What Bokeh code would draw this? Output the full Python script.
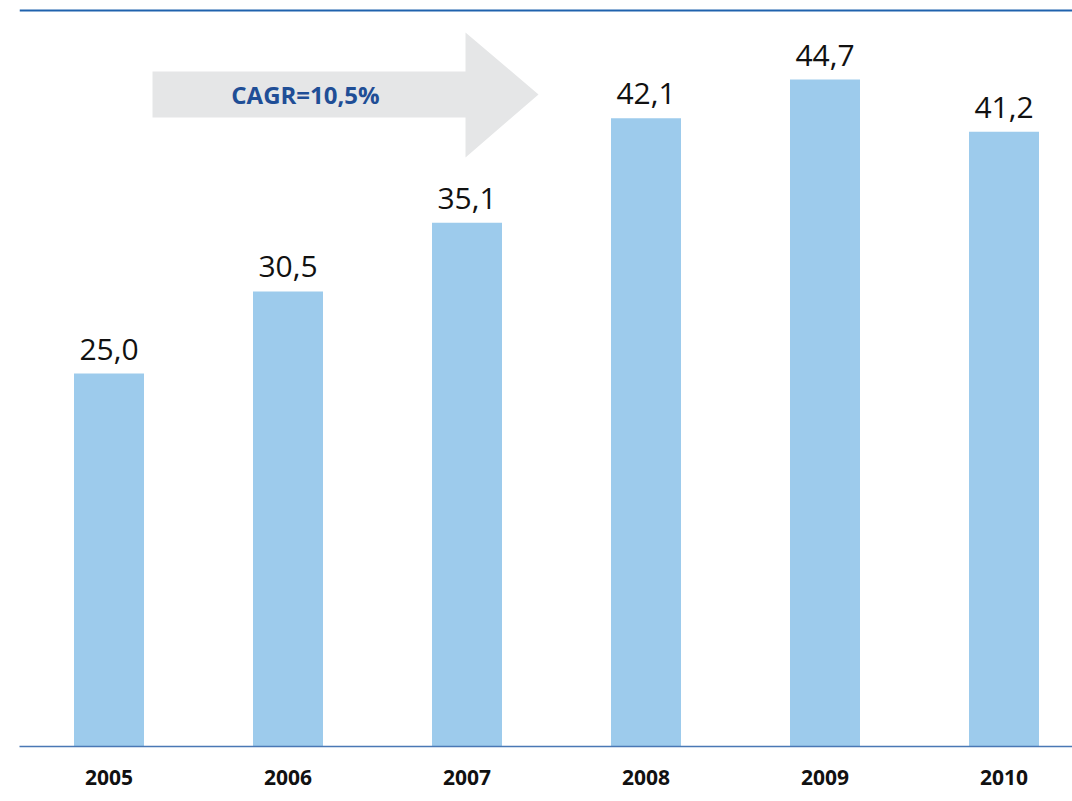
from bokeh.plotting import figure
from bokeh.models import Range1d, FixedTicker, Span, ColumnDataSource
from bokeh.core.properties import value
from bokeh.embed import file_html
from bokeh.resources import INLINE

years = ["2005", "2006", "2007", "2008", "2009", "2010"]
values = [25.0, 30.5, 35.1, 42.1, 44.7, 41.2]
labels = ["25,0", "30,5", "35,1", "42,1", "44,7", "41,2"]
cagr_text = "CAGR=10,5%"

W, H = 1072, 801
LEFT, BOTTOM = 19, 55
frame_w = W - LEFT
frame_h = H - BOTTOM
band = 179.0
y_max = 50.0
px_per_unit = frame_h / y_max
x_end = frame_w / band - 0.5

p = figure(width=W, height=H, output_backend="svg", toolbar_location=None,
           x_range=Range1d(-0.5, x_end), y_range=Range1d(0, y_max),
           min_border_left=LEFT, min_border_right=0, min_border_top=0,
           min_border_bottom=BOTTOM)
p.outline_line_color = None
p.grid.visible = False
p.yaxis.visible = False
p.background_fill_color = "white"
p.border_fill_color = "white"

def px_to_data(px, py):
    return (px - LEFT) / band - 0.5, (frame_h - py) / px_per_unit

# decorative arrow (pixel geometry converted to data space)
arrow_px = [(152, 71), (465, 71), (465, 32), (538, 94), (465, 157), (465, 117), (152, 117)]
ax, ay = zip(*[px_to_data(a, b) for a, b in arrow_px])
p.patch(list(ax), list(ay), fill_color="#e5e6e7", line_color=None)
tx, ty = px_to_data(305, 94)
p.text([tx], [ty], text=[cagr_text], text_font=value("Open Sans"),
       text_font_style="bold", text_font_size="24px", text_color="#1f4e96",
       text_align="center", text_baseline="middle")

xs = list(range(len(years)))
src = ColumnDataSource(dict(x=xs, top=values, label=labels))
p.vbar(x="x", top="top", width=70 / band, bottom=0, source=src,
       fill_color="#9dcbec", line_color=None)
p.text(x="x", y="top", text="label", source=src, text_font=value("Open Sans"),
       text_font_size="30px", text_color="#111111", text_align="center",
       text_baseline="bottom", y_offset=-14)

# top rule
top_y = px_to_data(0, 10)[1]
p.add_layout(Span(location=top_y, dimension="width", line_color="#1f62ad", line_width=2))

ax_ = p.xaxis[0]
ax_.ticker = FixedTicker(ticks=xs)
ax_.major_label_overrides = {i: y for i, y in enumerate(years)}
ax_.axis_line_color = "#4a78b5"
ax_.axis_line_width = 1.5
ax_.major_tick_line_color = None
ax_.minor_tick_line_color = None
ax_.major_tick_out = 0
ax_.major_tick_in = 0
ax_.major_label_standoff = 23
ax_.major_label_text_font = "Open Sans"
ax_.major_label_text_font_style = "bold"
ax_.major_label_text_font_size = "21px"
ax_.major_label_text_color = "#111111"

open("out.html", "w").write(file_html(p, INLINE))
